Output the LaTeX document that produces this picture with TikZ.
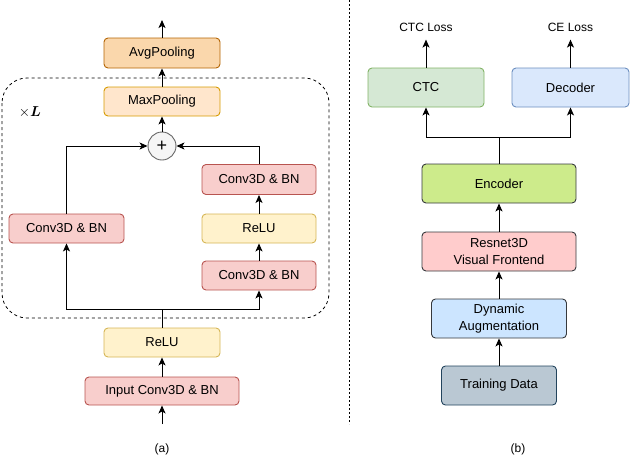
\documentclass[tikz,border=0pt]{standalone}
\usepackage{bm}
\usepackage{fontspec}
\setmainfont{Liberation Sans}
\usetikzlibrary{arrows.meta}
\definecolor{avgF}{HTML}{FAD7AC}\definecolor{avgD}{HTML}{B46504}
\definecolor{maxF}{HTML}{FFE6CC}\definecolor{maxD}{HTML}{D79B00}
\definecolor{convF}{HTML}{F8CECC}\definecolor{convD}{HTML}{B85450}
\definecolor{reluF}{HTML}{FFF2CC}\definecolor{reluD}{HTML}{D6B656}
\definecolor{plusF}{HTML}{F5F5F5}\definecolor{plusD}{HTML}{666666}
\definecolor{ctcF}{HTML}{D5E8D4}\definecolor{ctcD}{HTML}{82B366}
\definecolor{decF}{HTML}{DAE8FC}\definecolor{decD}{HTML}{6C8EBF}
\definecolor{encF}{HTML}{CDEB8B}\definecolor{darkD}{HTML}{36393D}
\definecolor{resF}{HTML}{FFCCCC}
\definecolor{augF}{HTML}{CCE5FF}
\definecolor{tdF}{HTML}{BAC8D3}\definecolor{tdD}{HTML}{23445D}
\begin{document}
\begin{tikzpicture}[x=1pt,y=-1pt,
  box/.style={draw, rounded corners=4pt, inner sep=0pt, line width=0.9pt, align=center,
    font=\fontsize{13}{16.5}\selectfont},
  arr/.style={-{Stealth[length=8pt,width=7pt,inset=2pt]}, line width=1pt},
  ln/.style={line width=1pt},
  lbl/.style={font=\fontsize{12}{14}\selectfont, inner sep=0pt}]
\useasboundingbox (0,0) rectangle (630,456);
% ---------- (a)
\draw[dashed, line width=0.8pt, rounded corners=25pt] (2,78) rectangle (329,318);
\node[inner sep=0pt, font=\fontsize{15}{17}\selectfont] (xl) at (30,112) {$\times \bm{L}$};
\node[box, fill=avgF, draw=avgD, minimum width=116pt, minimum height=30pt] (avg) at (162,53) {AvgPooling};
\node[box, fill=maxF, draw=maxD, minimum width=116pt, minimum height=29pt] (maxp) at (162,101.5) {MaxPooling};
\node[circle, draw=plusD, fill=plusF, line width=0.9pt, minimum size=28pt, inner sep=0pt, font=\fontsize{18}{18}\selectfont] (plus) at (162,146) {+};
\node[box, fill=convF, draw=convD, minimum width=115pt, minimum height=29pt] (lconv) at (66.5,228.5) {Conv3D \& BN};
\node[box, fill=convF, draw=convD, minimum width=114pt, minimum height=30pt] (rconvA) at (259,179.5) {Conv3D \& BN};
\node[box, fill=reluF, draw=reluD, minimum width=114pt, minimum height=29pt] (rrelu) at (259,228.5) {ReLU};
\node[box, fill=convF, draw=convD, minimum width=114pt, minimum height=29pt] (rconvB) at (259,275.5) {Conv3D \& BN};
\node[box, fill=reluF, draw=reluD, minimum width=116pt, minimum height=29pt] (relu) at (162,342.5) {ReLU};
\node[box, fill=convF, draw=convD, minimum width=154pt, minimum height=28pt] (inconv) at (162,391) {Input Conv3D \& BN};
\coordinate (inA) at (162,424);
\coordinate (outA) at (162,20);
\coordinate (split) at (162,309);
\draw[arr] (inA) -- (inconv);
\draw[arr] (inconv) -- (relu);
\draw[ln] (relu.north) -- (split);
\draw[arr] (split) -| (lconv.south);
\draw[arr] (split) -| (rconvB.south);
\draw[arr] (rconvB) -- (rrelu);
\draw[arr] (rrelu) -- (rconvA);
\draw[arr] (rconvA.north) |- (plus.east);
\draw[arr] (lconv.north) |- (plus.west);
\draw[arr] (plus) -- (maxp);
\draw[arr] (maxp) -- (avg);
\draw[arr] (avg) -- (outA);
\node[lbl] (capa) at (162,449) {(a)};
% ---------- separator
\coordinate (sepT) at (349,0);
\coordinate (sepB) at (349,424);
\draw[line width=0.8pt, dash pattern=on 2pt off 2pt] (sepT) -- (sepB);
% ---------- (b)
\node[box, fill=ctcF, draw=ctcD, minimum width=116pt, minimum height=39pt] (ctc) at (426,87.5) {CTC};
\node[box, fill=decF, draw=decD, minimum width=117pt, minimum height=39pt] (dec) at (570.5,87.5) {Decoder};
\node[box, fill=encF, draw=darkD, minimum width=154pt, minimum height=39pt] (enc) at (499,183.5) {Encoder};
\node[box, fill=resF, draw=darkD, minimum width=154pt, minimum height=39pt] (res) at (499,251.5) {Resnet3D\\Visual Frontend};
\node[box, fill=augF, draw=darkD, minimum width=135pt, minimum height=39pt] (aug) at (499,318.5) {Dynamic\\Augmentation};
\node[box, fill=tdF, draw=tdD, minimum width=115pt, minimum height=39pt] (td) at (499,385.5) {Training Data};
\node[lbl] (ctcl) at (426,27) {CTC Loss};
\node[lbl] (cel) at (570.5,27) {CE Loss};
\coordinate (splitB) at (499,137);
\draw[arr] (td) -- (aug);
\draw[arr] (aug) -- (res);
\draw[arr] (res) -- (enc);
\draw[ln] (enc.north) -- (splitB);
\draw[arr] (splitB) -| (ctc.south);
\draw[arr] (splitB) -| (dec.south);
\draw[arr] (ctc.north) -- ++(0,-28);
\draw[arr] (dec.north) -- ++(0,-28);
\node[lbl] (capb) at (518,449) {(b)};
\end{tikzpicture}
\end{document}
